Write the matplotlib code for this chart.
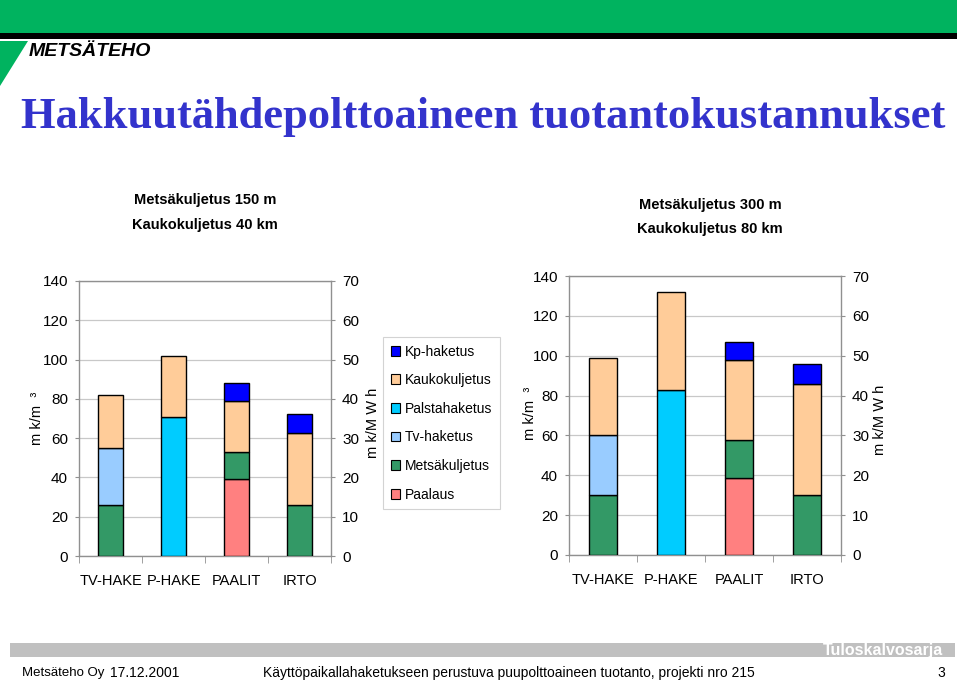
import matplotlib
matplotlib.use("Agg")
import matplotlib.pyplot as plt
from matplotlib.patches import Rectangle, Polygon, Patch

plt.rcParams['font.family'] = ['Liberation Sans', 'DejaVu Sans']

categories = ["TV-HAKE", "P-HAKE", "PAALIT", "IRTO"]
series_names = ["Paalaus", "Metsäkuljetus", "Tv-haketus", "Palstahaketus", "Kaukokuljetus", "Kp-haketus"]
series_colors = ["#FF8080", "#339966", "#99CCFF", "#00CCFF", "#FFCC99", "#0000FF"]

# Left chart: Metsäkuljetus 150 m, Kaukokuljetus 40 km (mk/m3)
left_paalaus = [0, 0, 39, 0]
left_metsakuljetus = [26, 0, 14, 26]
left_tvhaketus = [29, 0, 0, 0]
left_palstahaketus = [0, 71, 0, 0]
left_kaukokuljetus = [27, 31, 26, 36.5]
left_kphaketus = [0, 0, 9, 10]

# Right chart: Metsäkuljetus 300 m, Kaukokuljetus 80 km (mk/m3)
right_paalaus = [0, 0, 38.5, 0]
right_metsakuljetus = [30, 0, 19, 30]
right_tvhaketus = [30, 0, 0, 0]
right_palstahaketus = [0, 83, 0, 0]
right_kaukokuljetus = [39, 49, 40.5, 56]
right_kphaketus = [0, 0, 9, 10]

left_title = "Metsäkuljetus 150 m\nKaukokuljetus 40 km"
right_title = "Metsäkuljetus 300 m\nKaukokuljetus 80 km"
main_title = "Hakkuutähdepolttoaineen tuotantokustannukset"

W, H = 960, 683
fig = plt.figure(figsize=(W / 100, H / 100), dpi=100)


def fx(x):
    return x / W


def fy(y):
    return 1 - y / H


def axes_px(x0, y0, x1, y1):
    return fig.add_axes([fx(x0), fy(y1), fx(x1 - x0), (y1 - y0) / H])


def draw_chart(ax, stacks):
    x = list(range(len(categories)))
    bottom = [0] * len(categories)
    for name, col, vals in zip(series_names, series_colors, stacks):
        xs = [xi for xi, v in zip(x, vals) if v > 0]
        hs = [v for v in vals if v > 0]
        bs = [b for b, v in zip(bottom, vals) if v > 0]
        ax.bar(xs, hs, bottom=bs, width=0.41, color=col, edgecolor="black", linewidth=1.0, zorder=3)
        bottom = [b + v for b, v in zip(bottom, vals)]
    ax.set_xlim(-0.5, 3.5)
    ax.set_ylim(0, 140)
    ax.set_yticks(range(0, 141, 20))
    ax.yaxis.grid(True, color="#C8C8C8", linewidth=0.9, zorder=0)
    for s in ax.spines.values():
        s.set_color("#909090")
        s.set_linewidth(1.0)
    ax.set_xticks(range(len(categories)))
    ax.set_xticklabels(categories, fontsize=10.5)
    ax.tick_params(axis="x", which="major", length=0, pad=13)
    ax.set_xticks([-0.5, 0.5, 1.5, 2.5, 3.5], minor=True)
    ax.tick_params(axis="x", which="minor", length=5, color="#909090")
    ax.tick_params(axis="y", labelsize=11, length=3, color="#909090", pad=5)
    ax2 = ax.twinx()
    ax2.set_ylim(0, 70)
    ax2.set_yticks(range(0, 71, 10))
    ax2.tick_params(axis="y", labelsize=11, length=3, color="#909090", pad=5)
    for s in ax2.spines.values():
        s.set_visible(False)
    return ax2


axL = axes_px(79, 281, 331, 556)
draw_chart(axL, [left_paalaus, left_metsakuljetus, left_tvhaketus,
                 left_palstahaketus, left_kaukokuljetus, left_kphaketus])

axR = axes_px(569, 276, 841, 555)
draw_chart(axR, [right_paalaus, right_metsakuljetus, right_tvhaketus,
                 right_palstahaketus, right_kaukokuljetus, right_kphaketus])

# axis unit labels
unit_l = "m k/m  ³"
unit_r = "m k/M W h"
fig.text(fx(37), fy(418), unit_l, rotation=90, ha="center", va="center", fontsize=10.5)
fig.text(fx(373), fy(423), unit_r, rotation=90, ha="center", va="center", fontsize=10.5)
fig.text(fx(530), fy(413), unit_l, rotation=90, ha="center", va="center", fontsize=10.5)
fig.text(fx(880), fy(420), unit_r, rotation=90, ha="center", va="center", fontsize=10.5)

# chart titles
fig.text(fx(205), fy(212.5), left_title, ha="center", va="center", fontsize=10.5,
         fontweight="bold", linespacing=1.95)
fig.text(fx(710), fy(217), right_title, ha="center", va="center", fontsize=10.5,
         fontweight="bold", linespacing=1.9)

# legend
handles = [Patch(facecolor=c, edgecolor="black", linewidth=0.8) for c in series_colors][::-1]
labels = series_names[::-1]
leg = fig.legend(handles, labels, loc="upper left", bbox_to_anchor=(fx(383), fy(337)),
                 fontsize=10, frameon=True, fancybox=False, edgecolor="#C8C8C8",
                 handlelength=0.7, handleheight=0.7, handletextpad=0.35,
                 labelspacing=1.05, borderpad=0.55, borderaxespad=0)
leg.get_frame().set_linewidth(0.8)

# header band and logo
fig.patches.append(Rectangle((0, fy(33)), fx(957), 33 / H, transform=fig.transFigure,
                             facecolor="#00B35F", edgecolor="none"))
fig.patches.append(Rectangle((0, fy(39)), fx(957), 6 / H, transform=fig.transFigure,
                             facecolor="black", edgecolor="none"))
fig.patches.append(Polygon([(0, fy(41)), (fx(28), fy(41)), (0, fy(86))], closed=True,
                           transform=fig.transFigure, facecolor="#00B35F", edgecolor="none"))
fig.text(fx(29), fy(51), "METSÄTEHO", ha="left", va="center", fontsize=14,
         fontweight="bold", fontstyle="italic", color="black")

# main title
fig.text(fx(483), fy(117), main_title, ha="center", va="center", fontsize=32,
         fontweight="bold", family=["Liberation Serif", "DejaVu Serif"], color="#3333CC")

# footer
fig.patches.append(Rectangle((fx(10), fy(657)), fx(945), 14 / H, transform=fig.transFigure,
                             facecolor="#C0C0C0", edgecolor="none"))
fig.text(fx(943), fy(655.5), "Tuloskalvosarja", ha="right", va="baseline", fontsize=11.5,
         fontweight="bold", color="white")
fig.text(fx(22), fy(673), "Metsäteho Oy", ha="left", va="center", fontsize=9.5)
fig.text(fx(110), fy(673), "17.12.2001", ha="left", va="center", fontsize=10)
fig.text(fx(263), fy(673), "Käyttöpaikallahaketukseen perustuva puupolttoaineen tuotanto, projekti nro 215",
         ha="left", va="center", fontsize=10)
fig.text(fx(945), fy(673), "3", ha="right", va="center", fontsize=10)

fig.savefig("out.png", dpi=100)
